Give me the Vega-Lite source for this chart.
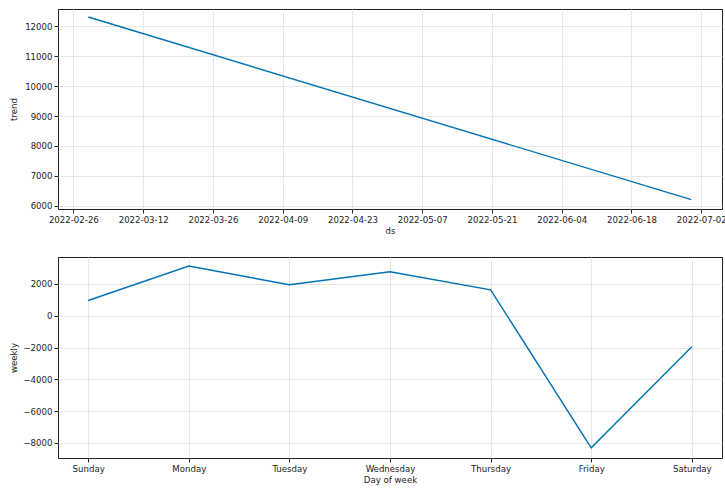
{
  "$schema": "https://vega.github.io/schema/vega-lite/v6.json",
  "padding": {"left": 8, "top": 8, "right": 0, "bottom": 4},
  "spacing": 20,
  "config": {
    "font": "DejaVu Sans",
    "view": {"stroke": "#222", "strokeWidth": 1},
    "axis": {
      "domain": false,
      "grid": true,
      "gridColor": "#e6e6e6",
      "gridWidth": 1,
      "tickColor": "#222",
      "tickSize": 4,
      "labelFont": "DejaVu Sans",
      "labelFontSize": 8.6,
      "labelColor": "#222",
      "labelPadding": 2,
      "titleFont": "DejaVu Sans",
      "titleFontSize": 8.6,
      "titleFontWeight": "normal",
      "titleColor": "#222"
    },
    "axisY": {"minExtent": 35, "maxExtent": 35, "titlePadding": 5},
    "axisX": {"titlePadding": 3}
  },
  "vconcat": [
    {
      "width": 664,
      "height": 200,
      "data": {
        "values": [
          {"ds": "2022-03-01", "trend": 12311},
          {"ds": "2022-06-30", "trend": 6204}
        ]
      },
      "mark": {"type": "line", "color": "#0072B2", "strokeWidth": 1.4},
      "encoding": {
        "x": {
          "field": "ds",
          "type": "temporal",
          "title": "ds",
          "scale": {
            "type": "utc",
            "domain": [
              {"year": 2022, "month": 2, "date": 22, "hours": 22, "utc": true},
              {"year": 2022, "month": 7, "date": 6, "hours": 4, "utc": true}
            ]
          },
          "axis": {
            "labelExpr": "utcFormat(datum.value, '%Y-%m-%d')",
            "labelOverlap": false,
            "values": [
              {"year": 2022, "month": 2, "date": 26, "utc": true},
              {"year": 2022, "month": 3, "date": 12, "utc": true},
              {"year": 2022, "month": 3, "date": 26, "utc": true},
              {"year": 2022, "month": 4, "date": 9, "utc": true},
              {"year": 2022, "month": 4, "date": 23, "utc": true},
              {"year": 2022, "month": 5, "date": 7, "utc": true},
              {"year": 2022, "month": 5, "date": 21, "utc": true},
              {"year": 2022, "month": 6, "date": 4, "utc": true},
              {"year": 2022, "month": 6, "date": 18, "utc": true},
              {"year": 2022, "month": 7, "date": 2, "utc": true}
            ]
          }
        },
        "y": {
          "field": "trend",
          "type": "quantitative",
          "title": "trend",
          "scale": {"domain": [5890, 12580], "nice": false, "zero": false},
          "axis": {"values": [6000, 7000, 8000, 9000, 10000, 11000, 12000], "format": "d"}
        }
      }
    },
    {
      "width": 664,
      "height": 201,
      "data": {
        "values": [
          {"day": "Sunday", "weekly": 962},
          {"day": "Monday", "weekly": 3126},
          {"day": "Tuesday", "weekly": 1950},
          {"day": "Wednesday", "weekly": 2767},
          {"day": "Thursday", "weekly": 1635},
          {"day": "Friday", "weekly": -8302},
          {"day": "Saturday", "weekly": -1950}
        ]
      },
      "mark": {"type": "line", "color": "#0072B2", "strokeWidth": 1.4},
      "encoding": {
        "x": {
          "field": "day",
          "type": "ordinal",
          "title": "Day of week",
          "sort": ["Sunday", "Monday", "Tuesday", "Wednesday", "Thursday", "Friday", "Saturday"],
          "scale": {"type": "point", "padding": 0.3},
          "axis": {"labelAngle": 0}
        },
        "y": {
          "field": "weekly",
          "type": "quantitative",
          "title": "weekly",
          "scale": {"domain": [-8946, 3698], "nice": false, "zero": false},
          "axis": {"values": [-8000, -6000, -4000, -2000, 0, 2000], "format": "d"}
        }
      }
    }
  ]
}
